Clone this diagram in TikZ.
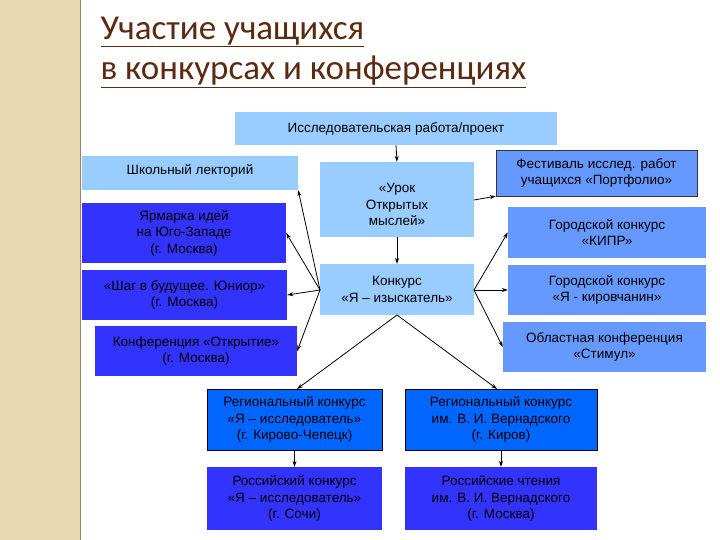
\documentclass[tikz,border=0pt]{standalone}
\usepackage{fontspec}
\setmainfont{Liberation Sans}
\newfontfamily\titlefont{Carlito}
\usetikzlibrary{arrows.meta}
\definecolor{lb}{HTML}{99CCFF}
\definecolor{mb}{HTML}{6699FF}
\definecolor{bb}{HTML}{3333FF}
\definecolor{rb}{HTML}{0066FF}
\definecolor{beige}{HTML}{E9D9B1}
\definecolor{brn}{HTML}{5C2A10}
\tikzset{x=1pt,y=-1pt,
 bx/.style={draw=none,inner sep=0pt,align=center,font=\fontsize{13.5}{16.5}\selectfont,text=black},
 tt/.style={anchor=west,font=\titlefont\fontsize{35}{40}\selectfont,text=brn},
 ar/.style={-{Stealth[length=6pt,width=4pt]},thick}}
\newcommand\bxx[7]{\node[bx,fill=#6,#7,minimum width={#3-#1},minimum height={#4-#2}] (#5) at ({(#1+#3)/2},{(#2+#4)/2}) {};}
\begin{document}
\begin{tikzpicture}
\useasboundingbox (0,0) rectangle (720,540);
\fill[white] (0,0) rectangle (720,540);
\fill[beige] (0,0) rectangle (80,540);
\draw[brn!60,thick] (80,0) -- (80,540);
\node[tt] (t1) at (97,32) {\underline{Участие учащихся}};
\node[tt] (t2) at (97,72) {\underline{в конкурсах и конференциях}};

\bxx{235}{112}{557}{145}{top}{lb}{}
\node[bx] at (top) {Исследовательская работа/проект};
\bxx{82}{156}{298}{190}{sk}{lb}{}
\node[bx] at ([yshift=2]sk) {Школьный лекторий};
\bxx{82}{203}{286}{263}{ya}{bb}{}
\node[bx] at (ya) {Ярмарка идей\\на Юго-Западе\\(г. Москва)};
\bxx{82}{270}{287}{320}{sh}{bb}{}
\node[bx] at (sh) {«Шаг в будущее. Юниор»\\(г. Москва)};
\bxx{95}{326}{297}{376}{ko}{bb}{}
\node[bx] at (ko) {Конференция «Открытие»\\(г. Москва)};
\bxx{320}{162}{474}{237}{ur}{lb}{}
\node[bx] at ([yshift=-5]ur) {«Урок\\Открытых\\мыслей»};
\bxx{320}{264}{474}{315}{kn}{lb}{}
\node[bx] at (kn) {Конкурс\\«Я – изыскатель»};
\bxx{496}{150}{697}{196}{fe}{mb}{draw=black!80}
\node[bx] at (fe) {Фестиваль исслед. работ\\учащихся «Портфолио»};
\bxx{508}{207}{706}{258}{ki}{mb}{}
\node[bx] at (ki) {Городской конкурс\\«КИПР»};
\bxx{508}{265}{706}{315}{kr}{mb}{}
\node[bx] at (kr) {Городской конкурс\\«Я - кировчанин»};
\bxx{503}{322}{706}{372}{ob}{mb}{}
\node[bx] at (ob) {Областная конференция\\«Стимул»};
\bxx{207}{389}{382}{450}{r1}{rb}{draw=black,thick}
\node[bx] at (r1) {Региональный конкурс\\«Я – исследователь»\\(г. Кирово-Чепецк)};
\bxx{405}{389}{597}{450}{r2}{rb}{draw=black,thick}
\node[bx] at (r2) {Региональный конкурс\\им. В. И. Вернадского\\(г. Киров)};
\bxx{207}{467}{382}{530}{p1}{bb}{}
\node[bx] at (p1) {Российский конкурс\\«Я – исследователь»\\(г. Сочи)};
\bxx{405}{467}{597}{530}{p2}{bb}{}
\node[bx] at (p2) {Российские чтения\\им. В. И. Вернадского\\(г. Москва)};

\coordinate (kl) at (320,290);
\coordinate (kR) at (474,290);
\coordinate (kb) at (397,315);
\draw[ar] (top.south) -- (ur.north);
\draw[ar] (ur.south) -- (kn.north);
\draw[ar] (474,200) -- (fe.south west);
\draw[ar] (kl) -- (sk.south east);
\draw[ar] (kl) -- (ya.east);
\draw[ar] (kl) -- (sh.east);
\draw[ar] (kl) -- (ko.east);
\draw[ar] (kR) -- (ki.west);
\draw[ar] (kR) -- (kr.west);
\draw[ar] (kR) -- (ob.west);
\draw[ar] (kb) -- (297,389);
\draw[ar] (kb) -- (497,389);
\draw[ar] (r1.south) -- (p1.north);
\draw[ar] (r2.south) -- (p2.north);
\end{tikzpicture}
\end{document}
